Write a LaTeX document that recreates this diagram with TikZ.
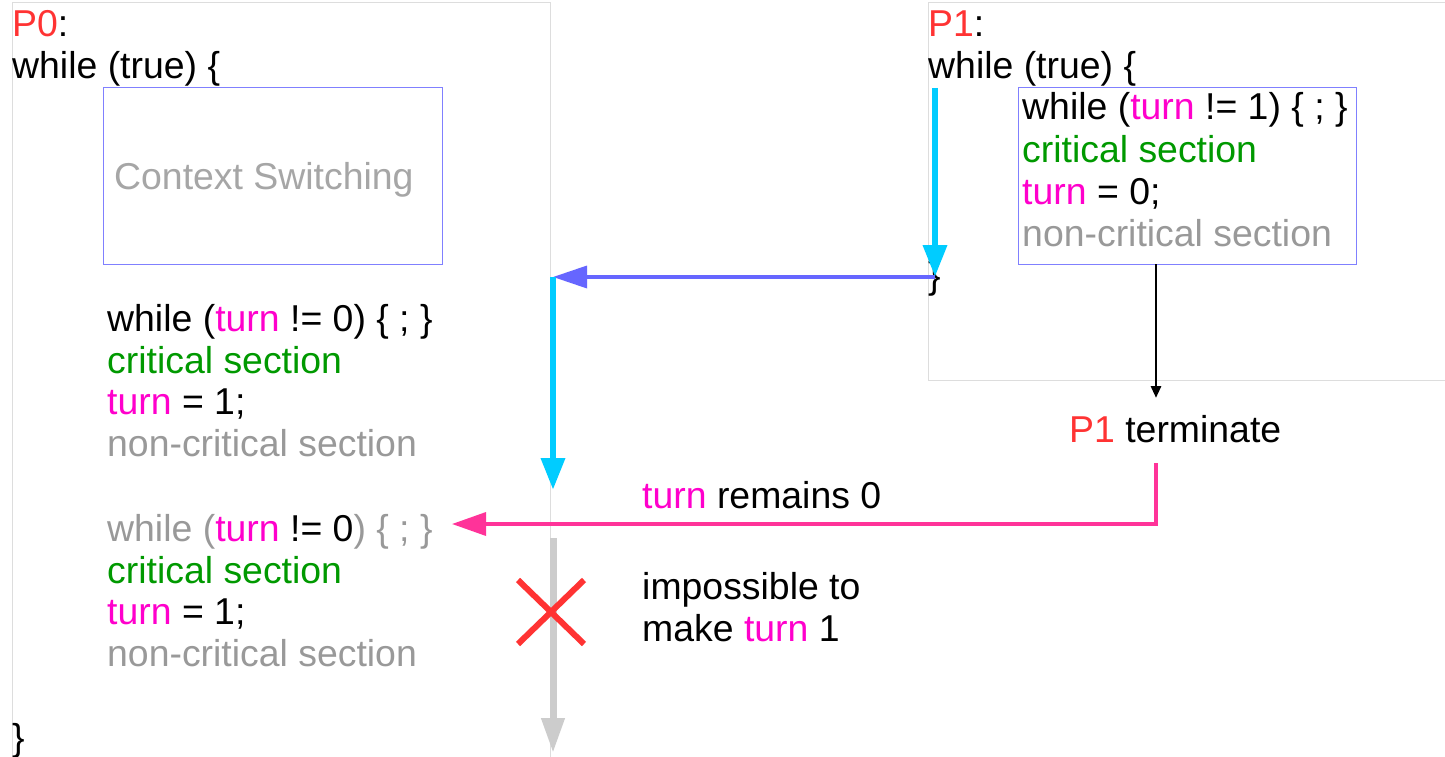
\documentclass[tikz,border=0pt]{standalone}
\usepackage{fontspec}
\setmainfont{Liberation Sans}
\usetikzlibrary{arrows.meta}
\definecolor{cred}{RGB}{255,51,51}
\definecolor{cmag}{RGB}{255,0,204}
\definecolor{cgreen}{RGB}{0,153,0}
\definecolor{cgray}{RGB}{153,153,153}
\definecolor{ctxt}{RGB}{166,166,166}
\definecolor{cframe}{RGB}{221,221,221}
\definecolor{cbox}{RGB}{128,128,255}
\definecolor{cblue}{RGB}{102,102,255}
\definecolor{ccyan}{RGB}{0,204,255}
\definecolor{cpink}{RGB}{255,51,153}
\definecolor{clgray}{RGB}{204,204,204}
\newcommand{\tvar}{\textcolor{cmag}{turn}}
\begin{document}
\begin{tikzpicture}[x=1pt,y=-1pt,
  txt/.style={anchor=base west,inner sep=0pt,font=\fontsize{37.4}{42}\selectfont},
  frame/.style={draw=cframe,line width=1pt},
  codebox/.style={draw=cbox,line width=1pt,inner sep=0pt,anchor=north west},
  thickcyan/.style={draw=ccyan,line width=6.5pt,-{Triangle[length=32pt,width=23pt]}},
  bluearr/.style={draw=cblue,line width=3.5pt,-{Triangle[length=34pt,width=22pt]}},
  pinkarr/.style={draw=cpink,line width=3.5pt,-{Triangle[length=34pt,width=23pt]}},
  grayarr/.style={draw=clgray,line width=7pt,-{Triangle[length=35pt,width=22pt]}},
  blackarr/.style={draw=black,line width=2.8pt,-{Triangle[length=12pt,width=10pt]}}]
\useasboundingbox (0,0) rectangle (1445,757);
\fill[white] (0,0) rectangle (1445,757);
% frames
\draw[frame] (12,760) -- (12,3) -- (550,3) -- (550,760);
\draw[frame] (1448,3) -- (928,3) -- (928,380) -- (1448,380);
% P0
\node[txt] (p0lbl) at (12,37) {\textcolor{cred}{P0}:};
\node[txt] (p0while) at (12,79) {while (true) \{};
\node[codebox,minimum width=339pt,minimum height=177pt] (csbox) at (103,87) {};
\node[txt,text=ctxt] (cstext) at (114,189) {Context Switching};
\node[txt] (a1) at (107,331) {while (\tvar{} != 0) \{ ; \}};
\node[txt,text=cgreen] (a2) at (107,373) {critical section};
\node[txt] (a3) at (107,414) {\tvar{} = 1;};
\node[txt,text=cgray] (a4) at (107,456) {non-critical section};
\node[txt] (b1) at (107,541) {\textcolor{cgray}{while (}\tvar{} != 0\textcolor{cgray}{) \{ ; \}}};
\node[txt,text=cgreen] (b2) at (107,583) {critical section};
\node[txt] (b3) at (107,624) {\tvar{} = 1;};
\node[txt,text=cgray] (b4) at (107,666) {non-critical section};
\node[txt] (p0end) at (12,750) {\}};
% P1
\node[txt] (p1lbl) at (928,37) {\textcolor{cred}{P1}:};
\node[txt] (p1while) at (928,79) {while (true) \{};
\node[codebox,minimum width=338pt,minimum height=177pt] (p1box) at (1018,87) {};
\node[txt] (c1) at (1022,120) {while (\tvar{} != 1) \{ ; \}};
\node[txt,text=cgreen] (c2) at (1022,162) {critical section};
\node[txt] (c3) at (1022,204) {\tvar{} = 0;};
\node[txt,text=cgray] (c4) at (1022,246) {non-critical section};
\node[txt] (p1end) at (928,288) {\}};
% labels
\node[txt] (term) at (1069,442) {\textcolor{cred}{P1} terminate};
\node[txt] (remain) at (642,508) {\tvar{} remains 0};
\node[txt] (imp1) at (642,599) {impossible to};
\node[txt] (imp2) at (642,641) {make \tvar{} 1};
% coordinates
\coordinate (k1s) at (935,88);
\coordinate (k1e) at (935,277);
\coordinate (k2s) at (553,277);
\coordinate (k2e) at (553,490);
\coordinate (bs) at (1156,264);
\coordinate (be) at (1156,398);
\coordinate (ps) at (1156,463);
\coordinate (pc) at (1156,524);
\coordinate (pe) at (452,524);
\coordinate (gs) at (553,538);
\coordinate (ge) at (553,753);
% connectors
\draw[bluearr] (k1e) -- (k2s);
\draw[thickcyan] (k1s) -- (k1e);
\draw[thickcyan] (k2s) -- (k2e);
\draw[blackarr] (bs) -- (be);
\draw[pinkarr] (ps) -- (pc) -- (pe);
\draw[grayarr] (gs) -- (ge);
\draw[cred,line width=6pt] (518,580) -- (584,644) (518,644) -- (584,580);
\end{tikzpicture}
\end{document}
